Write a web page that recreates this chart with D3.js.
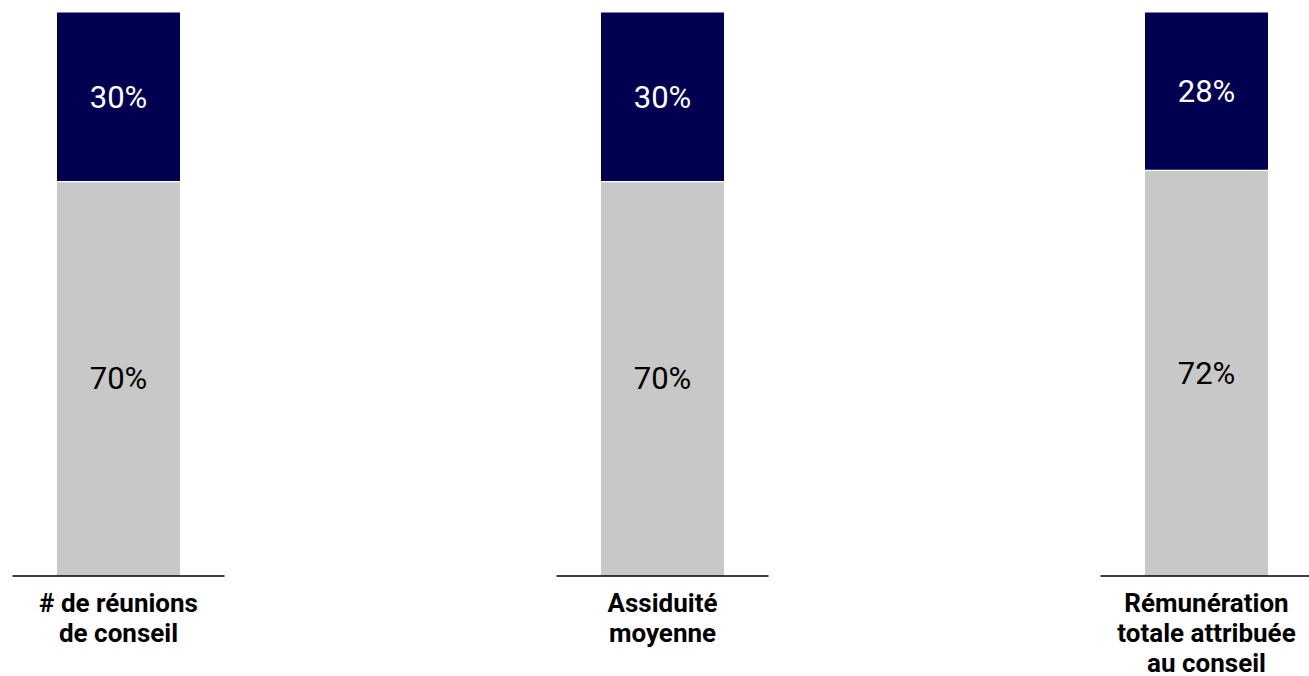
<!DOCTYPE html>
<html>
<head>
<meta charset="utf-8">
<script src="https://cdn.jsdelivr.net/npm/d3@7"></script>
<style>
  html, body { margin: 0; padding: 0; background: #ffffff; }
  svg { display: block; }
</style>
</head>
<body>
<svg id="chart" width="1309" height="676"></svg>
<script>
const categories = ["# de réunions\nde conseil", "Assiduité\nmoyenne", "Rémunération\ntotale attribuée\nau conseil"];
const grayValues = [70, 70, 72];
const navyValues = [30, 30, 28];
const valueLabelsGray = ["70%", "70%", "72%"];
const valueLabelsNavy = ["30%", "30%", "28%"];

const step = 544, bw = 123;
const xPos = d3.scalePoint().domain(categories).range([118.5, 118.5 + 2 * step]);
const y = d3.scaleLinear().domain([0, 100]).range([576, 12.5]);

const svg = d3.select("#chart");
const rows = categories.map((c, i) => ({ c, g: grayValues[i], n: navyValues[i], lg: valueLabelsGray[i], ln: valueLabelsNavy[i] }));

const grp = svg.append("g").selectAll("g").data(rows).join("g")
  .attr("transform", d => `translate(${xPos(d.c)},0)`);

grp.append("rect")
  .attr("x", -bw / 2).attr("width", bw)
  .attr("y", d => y(d.g)).attr("height", d => y(0) - y(d.g))
  .attr("fill", "#c8c8c8");

grp.append("rect")
  .attr("x", -bw / 2).attr("width", bw)
  .attr("y", d => y(d.g + d.n)).attr("height", d => y(d.g) - y(d.g + d.n))
  .attr("fill", "#000050");

grp.append("line")
  .attr("x1", -bw / 2).attr("x2", bw / 2)
  .attr("y1", d => y(d.g)).attr("y2", d => y(d.g))
  .attr("stroke", "#ffffff").attr("stroke-width", 1.2);

grp.append("text")
  .attr("x", 0).attr("y", d => (y(d.g + d.n) + y(d.g)) / 2)
  .attr("text-anchor", "middle").attr("dominant-baseline", "central")
  .attr("font-family", "Roboto, sans-serif").attr("font-size", 31)
  .attr("fill", "#ffffff")
  .text(d => d.ln);

grp.append("text")
  .attr("x", 0).attr("y", d => (y(0) + y(d.g)) / 2)
  .attr("text-anchor", "middle").attr("dominant-baseline", "central")
  .attr("font-family", "Roboto, sans-serif").attr("font-size", 31)
  .attr("fill", "#000000")
  .text(d => d.lg);

grp.append("line")
  .attr("x1", -106).attr("x2", 106)
  .attr("y1", y(0)).attr("y2", y(0))
  .attr("stroke", "#000000").attr("stroke-width", 1.3);

grp.append("text")
  .attr("text-anchor", "middle")
  .attr("font-family", "Roboto, sans-serif").attr("font-weight", "bold").attr("font-size", 26)
  .attr("fill", "#000000")
  .selectAll("tspan").data(d => d.c.split("\n")).join("tspan")
  .attr("x", 0)
  .attr("y", (t, i) => 612 + i * 30)
  .text(t => t);
</script>
</body>
</html>
